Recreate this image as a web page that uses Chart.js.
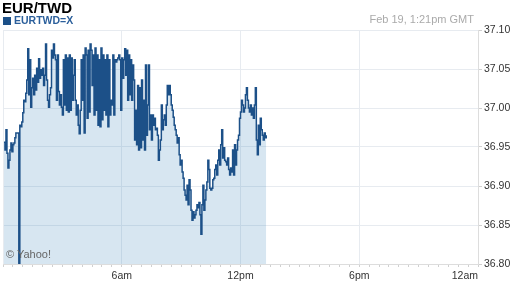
<!DOCTYPE html>
<html>
<head>
<meta charset="utf-8">
<script src="https://cdn.jsdelivr.net/npm/chart.js@4"></script>
<style>
  body { margin: 0; background: #fff; }
  #wrap { position: relative; width: 512px; height: 288px; font-family: Arial, "Liberation Sans", sans-serif; }
  #title { position: absolute; left: 2px; top: -1px; font-size: 15px; font-weight: bold; color: #000; }
  #legend { position: absolute; left: 3px; top: 14px; font-size: 10.5px; font-weight: bold; color: #2b5f9b; }
  #legend span { display: inline-block; width: 8px; height: 8px; background: #1c5088; margin-right: 3px; vertical-align: -1px; }
  #stamp { position: absolute; right: 38px; top: 13px; font-size: 11px; color: #aaa; }
  #copy { position: absolute; left: 6px; top: 248px; font-size: 11px; color: #666; }
</style>
</head>
<body>
<div id="wrap">
  <canvas id="chart" width="512" height="288"></canvas>
  <div id="title">EUR/TWD</div>
  <div id="legend"><span></span>EURTWD=X</div>
  <div id="stamp">Feb 19, 1:21pm GMT</div>
  <div id="copy">© Yahoo!</div>
</div>
<script>
// quotes every 3 minutes from midnight GMT
var startMinute = 3;
var stepMinutes = 3;
var prices = [
  36.956, 36.946, 36.972, 36.942, 36.923, 36.933, 36.946, 36.955, 36.944, 36.953,
  36.955, 36.962, 36.968, 36.968, 36.968, 36.800, 36.978, 36.976, 36.982, 36.994,
  37.010, 37.008, 37.019, 37.036, 37.076, 37.017, 37.062, 37.001, 37.026, 37.038,
  37.017, 37.042, 37.023, 37.051, 37.033, 37.063, 37.038, 37.049, 37.042, 37.051,
  37.029, 37.042, 37.082, 37.036, 37.010, 37.001, 37.017, 37.026, 37.074, 37.064,
  37.082, 37.068, 37.062, 37.010, 37.068, 37.021, 37.004, 37.017, 37.001, 36.991,
  37.062, 37.004, 37.068, 36.997, 37.064, 36.995, 37.068, 36.997, 37.064, 37.010,
  37.042, 37.062, 37.010, 36.991, 37.004, 36.978, 36.967, 36.997, 37.062, 37.010,
  37.068, 36.968, 37.077, 37.068, 36.987, 37.074, 36.995, 37.082, 37.074, 37.029,
  37.068, 36.991, 37.077, 36.997, 37.068, 36.978, 37.062, 36.976, 37.077, 36.985,
  37.068, 36.997, 37.062, 36.991, 37.068, 36.976, 37.062, 36.991, 37.010, 37.004,
  37.068, 36.991, 37.062, 37.059, 37.062, 37.064, 37.068, 37.062, 36.997, 37.064,
  37.038, 37.062, 37.076, 37.042, 37.074, 37.010, 37.068, 37.017, 37.062, 37.010,
  37.055, 37.036, 36.959, 36.997, 36.953, 37.029, 36.946, 37.026, 36.949, 37.036,
  36.959, 37.010, 36.946, 37.055, 36.965, 37.004, 37.055, 36.972, 36.991, 36.959,
  36.991, 36.978, 36.987, 36.972, 36.974, 36.965, 36.933, 36.946, 36.959, 37.004,
  36.972, 36.985, 36.991, 36.978, 37.004, 37.029, 37.017, 37.029, 37.017, 37.004,
  36.997, 36.988, 36.978, 36.972, 36.965, 36.955, 36.962, 36.940, 36.927, 36.933,
  36.918, 36.910, 36.895, 36.888, 36.882, 36.901, 36.876, 36.908, 36.895, 36.869,
  36.856, 36.867, 36.859, 36.863, 36.869, 36.876, 36.872, 36.879, 36.863, 36.838,
  36.876, 36.901, 36.869, 36.882, 36.895, 36.905, 36.933, 36.921, 36.897, 36.895,
  36.897, 36.908, 36.910, 36.921, 36.927, 36.914, 36.933, 36.946, 36.927, 36.953,
  36.972, 36.936, 36.949, 36.933, 36.931, 36.927, 36.936, 36.921, 36.914, 36.923,
  36.918, 36.946, 36.914, 36.953, 36.927, 36.946, 36.959, 36.965, 36.987, 36.995,
  37.010, 37.004, 36.995, 37.000, 37.017, 37.026, 37.010, 37.000, 36.995, 37.004,
  36.991, 37.000, 36.987, 37.004, 37.026, 36.959, 36.940, 36.978, 36.953, 36.987,
  36.972, 36.965, 36.959, 36.968, 36.962, 36.965
];

var tickMinutes = [360, 720, 1080, 1440];
var tickLabels = ['6am', '12pm', '6pm', '12am'];
var yMin = 36.80;
var yMax = 37.10;

var points = [];
for (var i = 0; i < prices.length; ++i) {
    points.push({x: startMinute + i * stepMinutes, y: prices[i]});
}

var gridColor = '#e7ebf0';
var axisFont = {family: 'Arial, "Liberation Sans", sans-serif', size: 10.5};

new Chart(document.getElementById('chart'), {
    type: 'line',
    data: {
        datasets: [{
            label: 'EURTWD=X',
            data: points,
            stepped: true,
            borderColor: '#1c5088',
            borderWidth: 1.5,
            backgroundColor: 'rgba(55,130,185,0.2)',
            fill: 'start',
            pointRadius: 0
        }]
    },
    options: {
        responsive: false,
        animation: false,
        layout: {padding: {left: 2, top: 30, right: 0, bottom: 0}},
        plugins: {
            legend: {display: false},
            tooltip: {enabled: false}
        },
        scales: {
            x: {
                type: 'linear',
                min: 0,
                max: 1440,
                afterFit: function (scale) { scale.height = 24; },
                border: {color: '#dddddd'},
                grid: {
                    color: function (ctx) {
                        return ctx.tick && ctx.tick.value % 360 === 0 ? gridColor : 'rgba(0,0,0,0)';
                    },
                    tickColor: '#d0d0d0',
                    tickLength: 3
                },
                ticks: {
                    stepSize: 30,
                    autoSkip: false,
                    maxRotation: 0,
                    align: 'inner',
                    padding: 3,
                    color: '#333',
                    font: axisFont,
                    callback: function (value) {
                        var k = tickMinutes.indexOf(value);
                        return k >= 0 ? tickLabels[k] : '';
                    }
                }
            },
            y: {
                position: 'right',
                min: yMin,
                max: yMax,
                afterFit: function (scale) { scale.width = 34; },
                border: {color: '#dddddd'},
                grid: {color: gridColor, tickColor: '#d0d0d0', tickLength: 4},
                ticks: {
                    stepSize: 0.05,
                    padding: 2,
                    color: '#333',
                    font: axisFont,
                    callback: function (value) { return Number(value).toFixed(2); }
                }
            }
        }
    }
});
</script>
</body>
</html>
